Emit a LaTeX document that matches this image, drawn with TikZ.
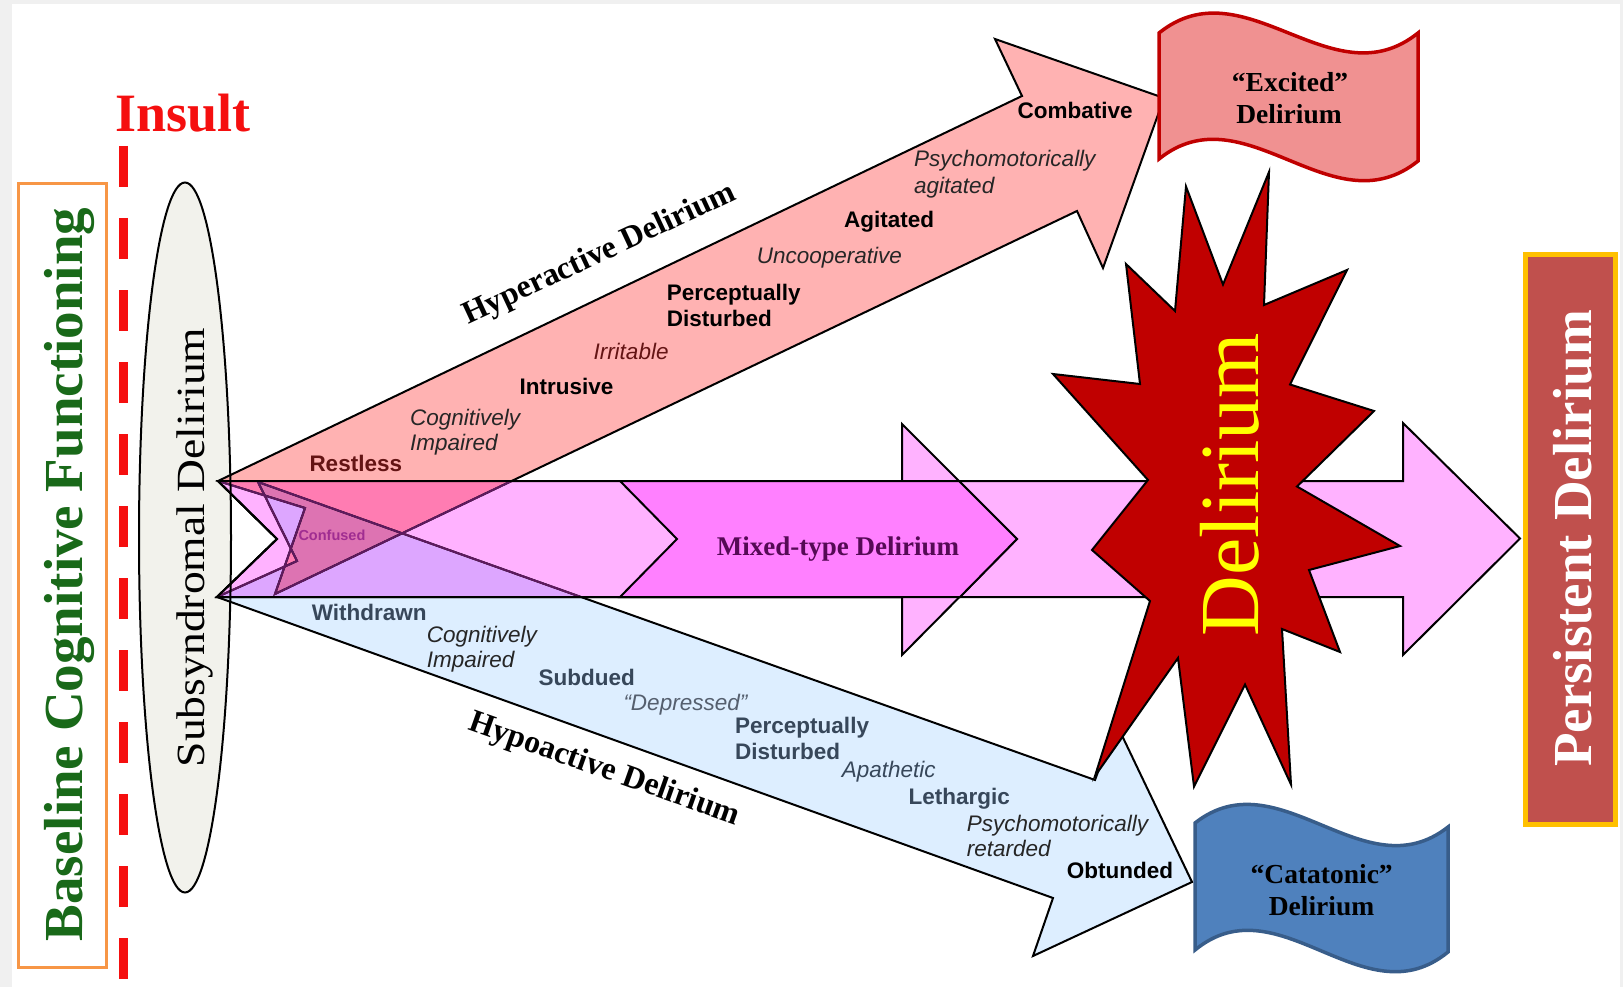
\documentclass[tikz,border=0pt]{standalone}
\usepackage{fontspec}
\setmainfont{Liberation Serif}
\setsansfont{Liberation Sans}
\usetikzlibrary{shapes.geometric}
\definecolor{bandpink}{RGB}{255,178,255}
\definecolor{chevpink}{RGB}{255,128,255}
\definecolor{hyperfill}{RGB}{255,178,178}
\definecolor{hypofill}{RGB}{221,238,255}
\definecolor{stared}{RGB}{192,0,0}
\definecolor{excfill}{RGB}{240,145,145}
\definecolor{excline}{RGB}{192,0,0}
\definecolor{catfill}{RGB}{79,129,189}
\definecolor{catline}{RGB}{56,93,138}
\definecolor{persfill}{RGB}{192,80,77}
\definecolor{persline}{RGB}{255,192,0}
\definecolor{baseorange}{RGB}{247,150,70}
\definecolor{basegreen}{RGB}{25,105,25}
\definecolor{ellfill}{RGB}{242,242,236}
\definecolor{maroonx}{RGB}{100,20,20}
\definecolor{slate}{RGB}{55,71,90}
\definecolor{greyslate}{RGB}{85,95,110}
\definecolor{mixtext}{RGB}{85,10,85}
\definecolor{confcol}{RGB}{160,45,145}
\definecolor{bggrey}{RGB}{240,240,240}
\definecolor{insred}{RGB}{245,15,15}
\definecolor{delyel}{RGB}{255,255,0}
\definecolor{linepurple}{RGB}{95,25,95}
\begin{document}
\begin{tikzpicture}[x=1pt,y=-1pt,
  outl/.style={draw=black, line width=2pt, line join=miter},
  lbl/.style={inner sep=0pt, anchor=base west},
  sb/.style={lbl, font=\sffamily\bfseries\fontsize{22.5}{27}\selectfont},
  si/.style={lbl, font=\sffamily\itshape\fontsize{22.5}{27}\selectfont},
  flagtxt/.style={inner sep=0pt, anchor=base, font=\bfseries\fontsize{27.5}{32}\selectfont},
  vtxt/.style={inner sep=0pt, anchor=base, rotate=90}]
\useasboundingbox (0,0) rectangle (1623,987);
\fill[bggrey] (0,0) rectangle (1623,987);
\fill[white] (12,4) rectangle (1620,987);

% baseline box
\node (basebox) [draw=baseorange, line width=3pt, minimum width=88pt, minimum height=783pt, inner sep=0pt] at (62,575.5) {};
\node (basetext) [vtxt, text=basegreen, font=\bfseries\fontsize{55}{60}\selectfont] at (82,574.5) {Baseline Cognitive Functioning};

% insult
\coordinate (insTop) at (123,146);
\coordinate (insBot) at (123,995);
\draw[insred, line width=9pt, dash pattern=on 41pt off 31pt] (insTop) -- (insBot);
\node (insult) [lbl, text=insred, font=\bfseries\fontsize{54}{60}\selectfont] at (115,132) {Insult};

% ellipse fill
\node (subellfill) [ellipse, fill=ellfill, minimum width=92pt, minimum height=710pt, inner sep=0pt] at (185,537.5) {};

% big pink arrow B
\filldraw[fill=bandpink, outl] (218,481) -- (1403,481) -- (1403,423) -- (1520,538.5) -- (1403,655) -- (1403,597) -- (217,597) -- (277,539) -- cycle;
% pink arrow A
\filldraw[fill=bandpink, outl] (218,481) -- (902,481) -- (902,424) -- (1017,539) -- (902,655) -- (902,597) -- (217,597) -- (277,539) -- cycle;

\begin{scope}[blend mode=multiply]
% hyperactive arrow
\filldraw[fill=hyperfill, outl] (218,481) -- (1022,96) -- (995,39) -- (1164,98) -- (1103,268) -- (1077,211) -- (275,594) -- (305,508) -- cycle;
% hypoactive arrow
\filldraw[fill=hypofill, outl] (258,482) -- (1095,780) -- (1116,723) -- (1192,882) -- (1033,956) -- (1053,898) -- (217,597) -- (297,561) -- cycle;
\end{scope}

% outlines of the two arrows seen through the pink band
\begin{scope}
\clip (218,481) -- (1403,481) -- (1403,597) -- (217,597) -- (277,539) -- cycle;
\draw[draw=linepurple, line width=2pt, line join=miter] (218,481) -- (1022,96) -- (995,39) -- (1164,98) -- (1103,268) -- (1077,211) -- (275,594) -- (305,508) -- cycle;
\draw[draw=linepurple, line width=2pt, line join=miter] (258,482) -- (1095,780) -- (1116,723) -- (1192,882) -- (1033,956) -- (1053,898) -- (217,597) -- (297,561) -- cycle;
\end{scope}
\draw[outl] (218,481) -- (620,481);
\draw[outl] (217,597) -- (620,597);
\draw[outl] (218,481) -- (277,539) -- (217,597);

% mixed chevron
\filldraw[fill=chevpink, outl] (620,481) -- (959,481) -- (1017,539) -- (960,597) -- (620,597) -- (677,539) -- cycle;

% star
\filldraw[fill=stared, outl] (1269,172) -- (1264,305) -- (1347,270) -- (1290,384.5) -- (1374,411) -- (1297,486.5) -- (1400,546) -- (1309,570) -- (1340,652) -- (1282,629) -- (1291,784.5) -- (1245,684.5) -- (1194,786.5) -- (1178,658) -- (1095,776) -- (1150,601) -- (1092,550) -- (1148,480) -- (1053,374) -- (1140,384) -- (1126,264) -- (1175,311) -- (1186,186.5) -- (1223,284.5) -- cycle;
\node (deltext) [vtxt, text=delyel, font=\fontsize{84}{90}\selectfont] at (1258,484.5) {Delirium};

% ellipse outline and text
\node (subell) [ellipse, draw=black, line width=2pt, minimum width=92pt, minimum height=710pt, inner sep=0pt] at (185,537.5) {};
\node (subtext) [vtxt, font=\fontsize{40}{44}\selectfont] at (204,547.5) {\scalebox{1.14}[1]{Subsyndromal Delirium}};

% excited flag
\filldraw[fill=excfill, draw=excline, line width=3.5pt] (1159,33) .. controls (1245,-36) and (1332,102) .. (1418,33) -- (1418,161) .. controls (1332,230) and (1245,90) .. (1159,159) -- cycle;
\node (exc1) [flagtxt] at (1290,91.7) {“Excited”};
\node (exc2) [flagtxt] at (1289,124) {Delirium};

% catatonic flag
\filldraw[fill=catfill, draw=catline, line width=3.5pt] (1195,823) .. controls (1279,757) and (1364,893) .. (1448,827) -- (1448,952) .. controls (1364,1021) and (1279,881) .. (1195,950) -- cycle;
\node (cat1) [flagtxt] at (1321.7,883.3) {“Catatonic”};
\node (cat2) [flagtxt] at (1321.5,915) {Delirium};

% persistent box
\node (pers) [draw=persline, fill=persfill, line width=5pt, minimum width=90pt, minimum height=570pt, inner sep=0pt] at (1570.8,539.3) {};
\node (perstext) [vtxt, text=white, font=\bfseries\fontsize{55}{60}\selectfont] at (1591.7,538.5) {Persistent Delirium};

% mixed text and confused
\node (mixtxt) [lbl, text=mixtext, font=\bfseries\fontsize{27}{30}\selectfont] at (716.7,555) {Mixed-type Delirium};
\node (confused) [lbl, text=confcol, font=\sffamily\bfseries\fontsize{14.5}{16}\selectfont] at (298.3,540) {Confused};

% arrow titles
\node (hypertitle) [inner sep=0pt, anchor=base, rotate=25, font=\bfseries\fontsize{32}{36}\selectfont] at (603,261.7) {Hyperactive Delirium};
\node (hypotitle) [inner sep=0pt, anchor=base, rotate=-19.5, font=\bfseries\fontsize{32}{36}\selectfont] at (601.5,777.5) {Hypoactive Delirium};

% hyperactive labels
\node (restless) [sb, text=maroonx] at (309.3,471.7) {Restless};
\node (hcog1) [si, text=black!85] at (410,425) {Cognitively};
\node (hcog2) [si, text=black!85] at (410,450) {Impaired};
\node (intrusive) [sb] at (519.3,394) {Intrusive};
\node (irritable) [si, text=maroonx] at (593.3,359.3) {Irritable};
\node (hperc1) [sb] at (666.7,300.7) {Perceptually};
\node (hperc2) [sb] at (666.7,326.7) {Disturbed};
\node (uncoop) [si, text=black!85] at (756.7,263.3) {Uncooperative};
\node (agitated) [sb] at (844,227.3) {Agitated};
\node (hpsy1) [si, text=black!85] at (914,166.7) {Psychomotorically};
\node (hpsy2) [si, text=black!85] at (914,193.5) {agitated};
\node (combative) [sb] at (1017.3,118.3) {Combative};

% hypoactive labels
\node (withdrawn) [sb, text=slate] at (311.7,620.7) {Withdrawn};
\node (pcog1) [si, text=black!85] at (426.7,642.7) {Cognitively};
\node (pcog2) [si, text=black!85] at (426.7,667.3) {Impaired};
\node (subdued) [sb, text=slate] at (538.3,685) {Subdued};
\node (depressed) [si, text=greyslate] at (623.3,710) {“Depressed”};
\node (pperc1) [sb, text=slate] at (735,733.3) {Perceptually};
\node (pperc2) [sb, text=slate] at (735,759.3) {Disturbed};
\node (apathetic) [si, text=slate] at (841.7,777.3) {Apathetic};
\node (lethargic) [sb, text=slate] at (908.3,804) {Lethargic};
\node (ppsy1) [si, text=black!85] at (966.7,831.7) {Psychomotorically};
\node (ppsy2) [si, text=black!85] at (966.7,856.7) {retarded};
\node (obtunded) [sb] at (1066.7,878.3) {Obtunded};
\end{tikzpicture}
\end{document}
